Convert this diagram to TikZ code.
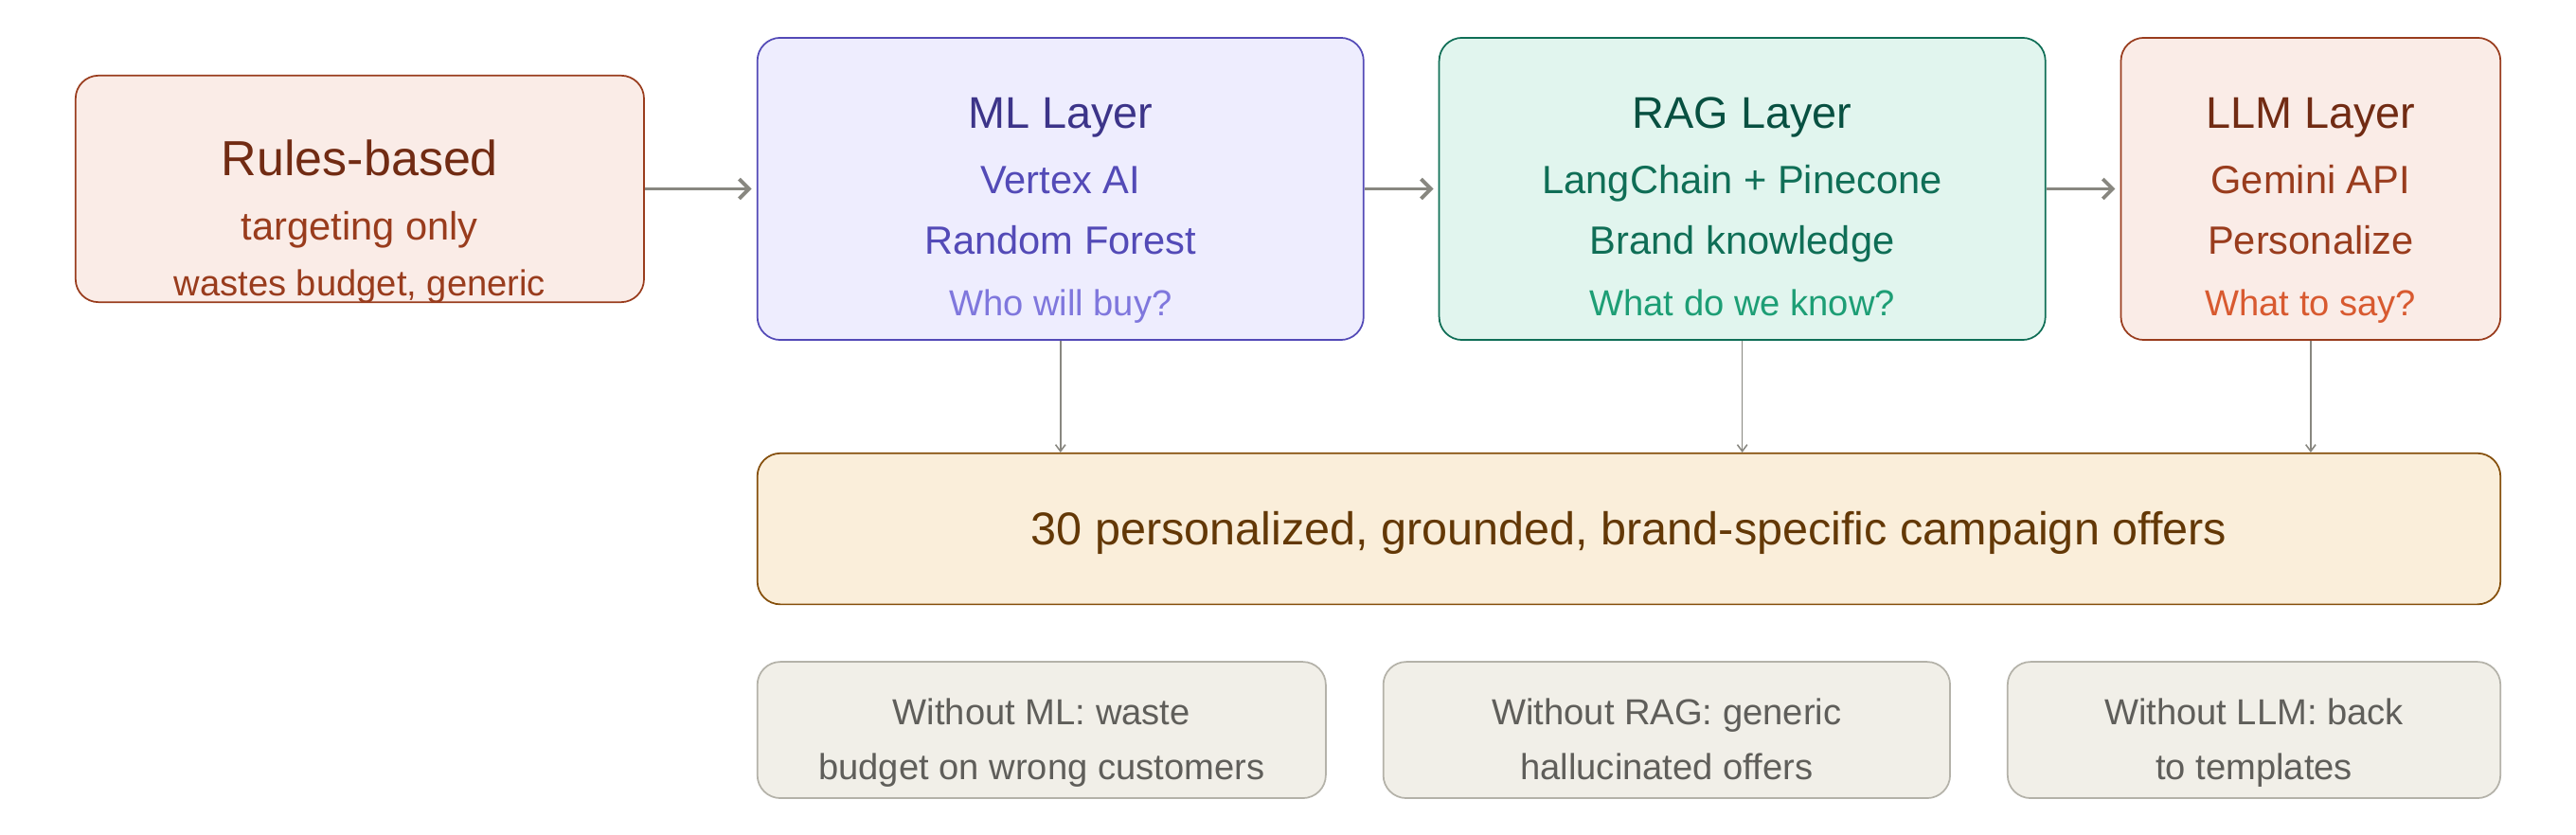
\documentclass[tikz,border=0pt]{standalone}
\usepackage{fontspec}
\setmainfont{Liberation Sans}
\usetikzlibrary{positioning,arrows.meta}
\definecolor{coralFill}{HTML}{FAECE7}
\definecolor{coralLine}{HTML}{993C1D}
\definecolor{coralDark}{HTML}{712B13}
\definecolor{coralLight}{HTML}{D85A30}
\definecolor{purpleFill}{HTML}{EEEDFE}
\definecolor{purpleLine}{HTML}{534AB7}
\definecolor{purpleDark}{HTML}{3C3489}
\definecolor{purpleLight}{HTML}{7F77DD}
\definecolor{tealFill}{HTML}{E1F5EE}
\definecolor{tealLine}{HTML}{0F6E56}
\definecolor{tealDark}{HTML}{085041}
\definecolor{tealLight}{HTML}{1D9E75}
\definecolor{amberFill}{HTML}{FAEEDA}
\definecolor{amberLine}{HTML}{854F0B}
\definecolor{amberDark}{HTML}{633806}
\definecolor{grayFill}{HTML}{F1EFE8}
\definecolor{grayLine}{HTML}{B4B2A9}
\definecolor{grayText}{HTML}{5F5E5A}
\definecolor{arrowGray}{HTML}{888780}
\tikzset{
  box/.style={draw, rounded corners=14pt, line width=1pt, inner sep=0pt},
  txt/.style={inner sep=0pt, anchor=base},
  flow/.style={draw=arrowGray, line width=2.2pt, -{Straight Barb[length=6pt,width=12pt]}},
  drop/.style={draw=arrowGray, line width=0.9pt, -{Straight Barb[length=4pt,width=6pt]}}
}
\begin{document}
\begin{tikzpicture}[x=1pt,y=-1pt]
            \useasboundingbox (0,0) rectangle (1568,508);

            % rules-based
            \node[box, fill=coralFill, draw=coralLine, minimum width=346pt, minimum height=138pt] (rules) at (219,115) {};
            \node[txt, text=coralDark, font=\fontsize{30}{30}\selectfont] (rulesA) at (219,107) {Rules-based};
            \node[txt, text=coralLine, font=\fontsize{24}{24}\selectfont] (rulesB) at (219,146) {targeting only};
            \node[txt, text=coralLine, font=\fontsize{22}{22}\selectfont] (rulesC) at (219,180) {wastes budget, generic};

            % ML layer
            \node[box, fill=purpleFill, draw=purpleLine, minimum width=369pt, minimum height=184pt] (ml) at (645.5,115) {};
            \node[txt, text=purpleDark, font=\fontsize{27}{27}\selectfont] (mlA) at (645.5,78) {ML Layer};
            \node[txt, text=purpleLine, font=\fontsize{24}{24}\selectfont] (mlB) at (645.5,118) {Vertex AI};
            \node[txt, text=purpleLine, font=\fontsize{24}{24}\selectfont] (mlC) at (645.5,155) {Random Forest};
            \node[txt, text=purpleLight, font=\fontsize{22}{22}\selectfont] (mlD) at (645.5,192) {Who will buy?};

            % RAG layer
            \node[box, fill=tealFill, draw=tealLine, minimum width=369pt, minimum height=184pt] (rag) at (1060.5,115) {};
            \node[txt, text=tealDark, font=\fontsize{27}{27}\selectfont] (ragA) at (1060.5,78) {RAG Layer};
            \node[txt, text=tealLine, font=\fontsize{24}{24}\selectfont] (ragB) at (1060.5,118) {LangChain + Pinecone};
            \node[txt, text=tealLine, font=\fontsize{24}{24}\selectfont] (ragC) at (1060.5,155) {Brand knowledge};
            \node[txt, text=tealLight, font=\fontsize{22}{22}\selectfont] (ragD) at (1060.5,192) {What do we know?};

            % LLM layer
            \node[box, fill=coralFill, draw=coralLine, minimum width=231pt, minimum height=184pt] (llm) at (1406.5,115) {};
            \node[txt, text=coralDark, font=\fontsize{27}{27}\selectfont] (llmA) at (1406.5,78) {LLM Layer};
            \node[txt, text=coralLine, font=\fontsize{24}{24}\selectfont] (llmB) at (1406.5,118) {Gemini API};
            \node[txt, text=coralLine, font=\fontsize{24}{24}\selectfont] (llmC) at (1406.5,155) {Personalize};
            \node[txt, text=coralLight, font=\fontsize{22}{22}\selectfont] (llmD) at (1406.5,192) {What to say?};

            % offers
            \node[box, fill=amberFill, draw=amberLine, minimum width=1061pt, minimum height=92pt] (offers) at (991.5,322) {};
            \node[txt, text=amberDark, font=\fontsize{28}{28}\selectfont] (offersA) at (991.5,332) {30 personalized, grounded, brand-specific campaign offers};

            % without notes
            \node[box, fill=grayFill, draw=grayLine, minimum width=346pt, minimum height=83pt] (noML) at (634,444.5) {};
            \node[txt, text=grayText, font=\fontsize{22}{22}\selectfont] (noMLA) at (634,441) {Without ML: waste};
            \node[txt, text=grayText, font=\fontsize{22}{22}\selectfont] (noMLB) at (634,475) {budget on wrong customers};
            \node[box, fill=grayFill, draw=grayLine, minimum width=345pt, minimum height=83pt] (noRAG) at (1014.5,444.5) {};
            \node[txt, text=grayText, font=\fontsize{22}{22}\selectfont] (noRAGA) at (1014.5,441) {Without RAG: generic};
            \node[txt, text=grayText, font=\fontsize{22}{22}\selectfont] (noRAGB) at (1014.5,475) {hallucinated offers};
            \node[box, fill=grayFill, draw=grayLine, minimum width=300pt, minimum height=83pt] (noLLM) at (1372,444.5) {};
            \node[txt, text=grayText, font=\fontsize{22}{22}\selectfont] (noLLMA) at (1372,441) {Without LLM: back};
            \node[txt, text=grayText, font=\fontsize{22}{22}\selectfont] (noLLMB) at (1372,475) {to templates};

            % connectors
            \draw[flow] (rules.east) -- ([xshift=-3pt]ml.west);
            \draw[flow] (ml.east) -- ([xshift=-3pt]rag.west);
            \draw[flow] (rag.east) -- ([xshift=-3pt]llm.west);
            \draw[drop] (ml.south) -- (ml.south |- offers.north) coordinate[yshift=-4pt] (mlEnd);
            \draw[drop] (rag.south) -- (rag.south |- offers.north);
            \draw[drop] (llm.south) -- (llm.south |- offers.north);
        \end{tikzpicture}
\end{document}
